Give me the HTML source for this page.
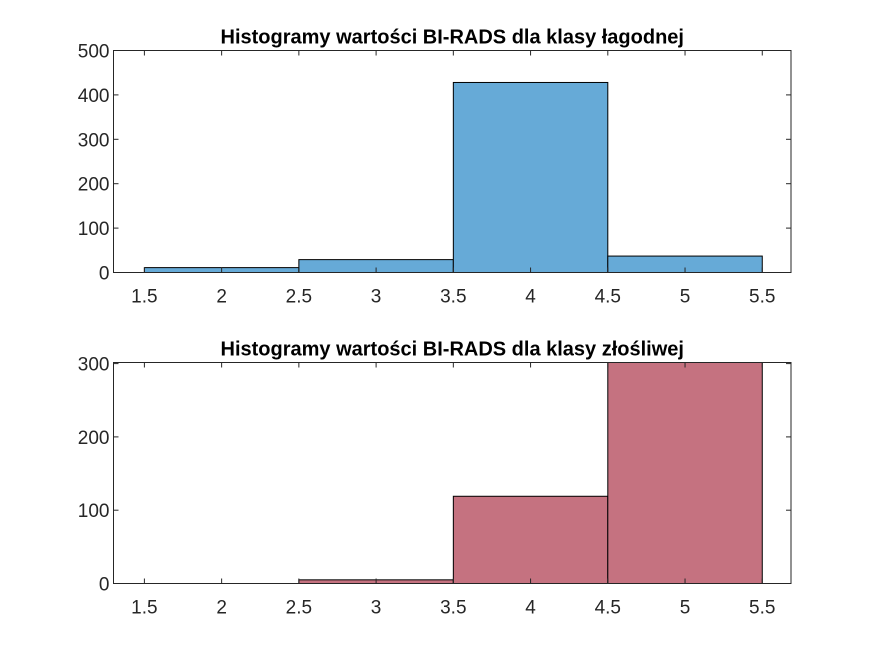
<!DOCTYPE html>
<html><head><meta charset="utf-8"><style>
body{margin:0;background:#fff;}
svg text{font-family:"Liberation Sans",Arial,sans-serif;}
</style></head><body>
<svg id="chart" width="875" height="656" xmlns="http://www.w3.org/2000/svg"></svg>
<script>
const binEdges = [1.5, 2.5, 3.5, 4.5, 5.5];
const benignCounts = [11, 29, 428, 37];
const malignantCounts = [0, 5, 119, 302];
const xTicks = [1.5, 2, 2.5, 3, 3.5, 4, 4.5, 5, 5.5];
const benignYTicks = [0, 100, 200, 300, 400, 500];
const malignantYTicks = [0, 100, 200, 300];
const titles = ["Histogramy wartości BI-RADS dla klasy łagodnej", "Histogramy wartości BI-RADS dla klasy złośliwej"];

const svg = document.getElementById('chart');
const NS = 'http://www.w3.org/2000/svg';
function mk(tag, attrs, parent){const e=document.createElementNS(NS,tag);for(const k in attrs)e.setAttribute(k,attrs[k]);(parent||svg).appendChild(e);return e;}

function drawPanel(cfg){
  const g = mk('g',{});
  
  
  const L=113.5,R=791,T=cfg.top,B=cfg.bottom;
  const xs=v=>L+(v-1.3)/(5.686-1.3)*(R-L);
  const ys=v=>B-(v/cfg.ymax)*(B-T);
  for(let i=0;i<cfg.counts.length;i++){
    const h=Math.min(cfg.counts[i],cfg.ymax);
    const r=mk('rect',{x:xs(binEdges[i]),y:ys(h),width:xs(binEdges[i+1])-xs(binEdges[i]),height:B-ys(h),fill:cfg.color,stroke:'#000','stroke-width':1},g);
    
    
  }
  const box=mk('rect',{x:L,y:T,width:R-L,height:B-T,fill:'none',stroke:'#262626','stroke-width':1},g);
  
  
  xTicks.forEach(t=>{
    const x=xs(t);
    mk('line',{x1:x,x2:x,y1:B,y2:B-5,stroke:'#262626'},g);
    mk('line',{x1:x,x2:x,y1:T,y2:T+5,stroke:'#262626'},g);
    const tx=mk('text',{x:x,y:B+30,'text-anchor':'middle','font-size':19,fill:'#262626'},g);
    tx.textContent=t;
    
    
  });
  cfg.yTicks.forEach(t=>{
    const y=ys(t);
    mk('line',{x1:L,x2:L+5,y1:y,y2:y,stroke:'#262626'},g);
    mk('line',{x1:R,x2:R-5,y1:y,y2:y,stroke:'#262626'},g);
    const tx=mk('text',{x:L-4,y:y+7,'text-anchor':'end','font-size':19,fill:'#262626'},g);
    tx.textContent=t;
    
    
  });
  const ti=mk('text',{x:(L+R)/2,y:T-7,'text-anchor':'middle','font-size':20,'font-weight':'bold',fill:'#000'},g);
  ti.textContent=cfg.title;
  
  
}
drawPanel({name:'benign-histogram',top:50.5,bottom:272.5,ymax:500,counts:benignCounts,yTicks:benignYTicks,color:'#66aad7',title:titles[0]});
drawPanel({name:'malignant-histogram',top:362.5,bottom:583.5,ymax:301.5,counts:malignantCounts,yTicks:malignantYTicks,color:'#c57280',title:titles[1]});
</script>
</body></html>
